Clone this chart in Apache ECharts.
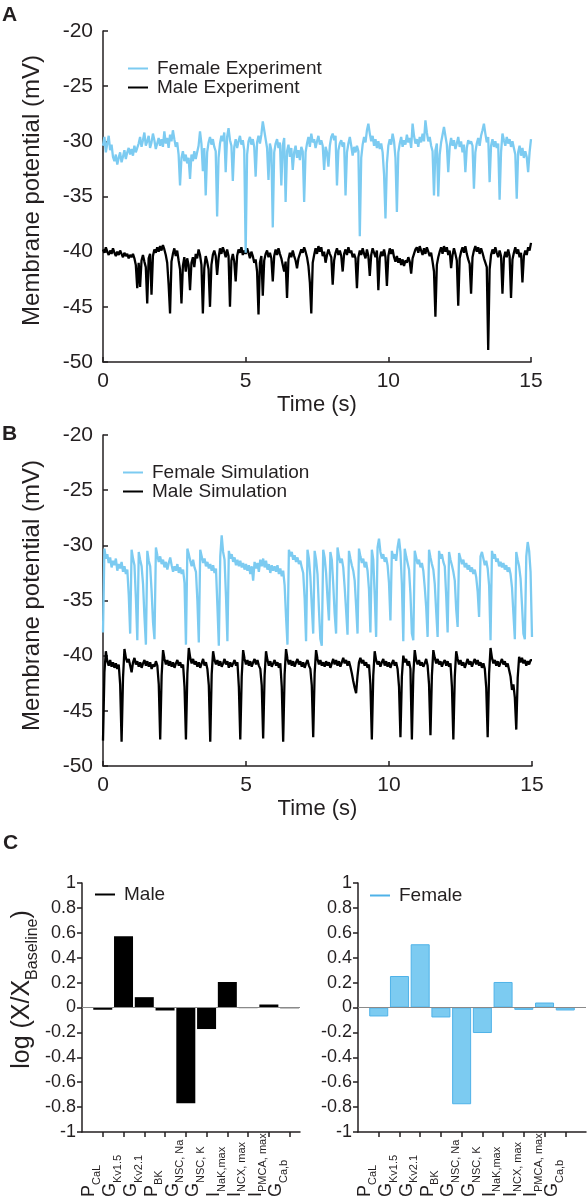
<!DOCTYPE html>
<html><head><meta charset="utf-8">
<script src="https://cdn.jsdelivr.net/npm/echarts@6/dist/echarts.min.js"></script>
<style>html,body{margin:0;padding:0;background:#fff}#c{width:588px;height:1200px}</style>
</head><body><div id="c"></div>
<script>
// ---------- DATA ----------
const dt = 0.05; // sampling step of the traces (s)
const timeTicks = [0, 5, 10, 15];
const voltTicks = [-50, -45, -40, -35, -30, -25, -20];
const logTicks = [-1, -0.8, -0.6, -0.4, -0.2, 0, 0.2, 0.4, 0.6, 0.8, 1];

const femaleExp = [
-30.4,-29.6,-31.0,-30.2,-29.5,-30.8,-30.3,-31.4,-31.8,-31.2,-32.1,-31.5,-31.0,-31.9,-31.4,-30.8,-31.6,-31.0,-30.6,-31.2,
-30.7,-31.3,-30.4,-31.0,-30.6,-30.2,-29.6,-30.5,-29.9,-29.2,-30.4,-30.0,-29.5,-30.6,-30.1,-29.3,-29.9,-30.7,-30.2,-29.7,
-30.4,-29.8,-30.5,-29.1,-30.2,-29.7,-30.6,-29.4,-30.0,-29.0,-29.8,-30.5,-30.1,-31.2,-34.0,-31.5,-30.9,-31.8,-31.2,-32.0,
-31.5,-33.4,-31.2,-31.8,-30.9,-31.6,-31.0,-30.4,-29.1,-30.2,-32.7,-30.6,-34.9,-31.0,-30.1,-29.6,-30.3,-29.8,-30.5,-30.9,
-36.8,-31.5,-30.2,-29.5,-30.0,-29.2,-32.8,-29.6,-28.8,-29.9,-30.4,-33.6,-30.5,-29.8,-30.6,-30.0,-29.5,-30.3,-29.9,-30.8,
-40.1,-31.2,-30.0,-29.6,-30.3,-29.8,-30.5,-33.2,-30.1,-29.5,-30.2,-29.4,-28.2,-29.0,-29.8,-30.6,-33.5,-30.2,-30.8,-37.8,
-31.0,-30.2,-29.8,-30.6,-30.1,-34.0,-30.4,-29.7,-35.5,-30.9,-30.3,-31.4,-30.6,-32.6,-31.0,-30.4,-31.5,-30.8,-31.7,-30.5,
-30.9,-35.5,-31.0,-30.2,-29.6,-30.5,-29.3,-30.1,-29.8,-30.6,-30.0,-29.5,-30.3,-29.9,-30.4,-32.6,-30.5,-31.0,-32.3,-30.4,
-29.6,-29.3,-29.9,-29.5,-34.0,-30.8,-30.2,-29.9,-30.5,-30.1,-34.9,-31.0,-30.2,-29.6,-30.4,-31.3,-30.5,-31.0,-30.4,-30.9,
-38.6,-31.5,-30.3,-29.6,-30.1,-29.0,-28.4,-29.3,-30.0,-29.5,-30.4,-29.8,-30.6,-30.0,-30.7,-30.2,-31.0,-33.0,-37.0,-32.0,
-30.4,-29.8,-30.3,-29.3,-30.0,-31.5,-36.4,-31.0,-30.2,-29.6,-30.5,-29.9,-30.3,-29.4,-30.1,-29.7,-30.6,-28.4,-29.5,-30.2,
-29.8,-30.5,-29.6,-30.1,-29.3,-30.0,-28.1,-29.2,-30.0,-29.6,-30.4,-30.9,-34.9,-30.8,-30.2,-35.0,-31.2,-30.1,-29.4,-28.7,
-29.5,-30.3,-32.8,-30.5,-29.7,-30.4,-29.9,-30.7,-30.2,-29.6,-30.5,-30.0,-31.0,-30.3,-32.8,-30.6,-29.9,-30.2,-30.0,-30.4,
-34.3,-31.0,-30.2,-29.7,-30.4,-29.5,-29.0,-28.4,-29.3,-30.1,-29.6,-33.7,-30.4,-29.8,-30.5,-30.0,-30.6,-30.2,-35.3,-31.0,
-29.3,-29.9,-30.4,-29.6,-30.2,-29.8,-30.5,-30.0,-30.6,-31.2,-35.2,-31.0,-30.4,-31.3,-30.6,-31.5,-30.9,-31.4,-32.8,-31.0,
-29.8];

const maleExp = [
-39.8,-40.1,-39.6,-40.0,-40.3,-39.9,-40.2,-39.7,-40.1,-40.4,-40.0,-40.3,-39.9,-40.2,-40.5,-40.1,-40.4,-40.2,-40.6,-40.3,
-40.5,-40.2,-40.6,-41.2,-43.3,-41.0,-43.2,-40.8,-40.3,-40.9,-41.4,-44.7,-40.6,-40.2,-43.9,-40.4,-39.8,-40.1,-39.6,-40.0,
-39.5,-39.9,-39.4,-39.8,-40.3,-41.0,-43.0,-45.6,-40.9,-40.2,-39.7,-40.4,-39.9,-40.8,-41.6,-44.7,-41.3,-40.5,-41.8,-40.6,
-41.2,-43.5,-41.0,-40.5,-41.4,-40.2,-40.6,-39.8,-40.3,-41.2,-45.6,-41.5,-40.4,-40.9,-41.6,-45.0,-41.2,-40.3,-39.9,-40.4,
-42.1,-40.6,-39.7,-40.2,-39.6,-40.0,-40.5,-39.8,-40.4,-45.0,-40.8,-40.2,-40.9,-42.7,-40.4,-39.8,-40.1,-39.6,-40.3,-39.9,
-40.2,-39.7,-40.1,-40.6,-40.0,-40.4,-41.0,-40.7,-41.8,-45.7,-41.0,-40.4,-44.0,-40.8,-40.2,-39.9,-40.5,-40.1,-40.6,-42.7,
-40.4,-39.8,-40.3,-39.7,-40.2,-40.6,-41.2,-41.8,-40.9,-44.2,-40.7,-40.1,-40.5,-39.9,-40.4,-40.8,-41.5,-40.6,-40.2,-39.8,
-40.1,-39.6,-40.0,-40.5,-41.3,-42.8,-45.6,-41.0,-40.3,-39.7,-40.2,-39.5,-40.0,-39.6,-40.4,-40.0,-41.0,-40.3,-39.8,-40.2,
-40.5,-43.0,-40.8,-40.1,-39.7,-40.3,-39.9,-40.4,-41.8,-40.2,-39.8,-40.3,-39.6,-40.1,-39.9,-40.5,-40.2,-40.6,-43.3,-40.5,
-39.9,-40.3,-39.7,-40.2,-40.6,-39.8,-40.4,-42.2,-40.3,-39.7,-40.1,-40.5,-39.9,-43.5,-40.6,-40.0,-40.4,-39.8,-40.5,-43.1,
-40.4,-39.7,-40.2,-39.8,-40.5,-40.9,-40.4,-41.0,-40.6,-41.2,-40.7,-41.3,-40.8,-41.0,-40.5,-40.9,-42.0,-40.6,-40.2,-39.8,
-39.6,-40.1,-39.5,-39.9,-40.3,-39.7,-40.2,-39.6,-40.0,-40.4,-40.1,-40.9,-41.8,-45.9,-41.2,-40.5,-40.0,-39.6,-40.2,-39.5,
-40.0,-39.6,-40.3,-39.9,-41.5,-40.3,-39.7,-40.2,-40.8,-44.9,-40.6,-40.0,-39.6,-40.1,-39.5,-40.2,-40.7,-41.1,-43.8,-40.5,
-39.9,-39.5,-40.0,-39.6,-40.2,-39.7,-40.1,-40.6,-41.0,-41.4,-48.9,-41.6,-40.3,-39.8,-40.2,-39.6,-40.1,-40.5,-39.9,-40.4,
-43.8,-40.6,-40.0,-40.5,-39.8,-40.4,-44.2,-40.7,-40.1,-39.6,-40.2,-39.8,-40.5,-40.1,-42.8,-40.4,-39.9,-40.3,-39.6,-39.9,
-39.2];

const femaleSim = [
-37.9,-30.3,-31.2,-30.8,-31.6,-31.1,-32.0,-31.4,-31.8,-31.2,-32.3,-31.7,-32.1,-31.5,-32.4,-31.9,-32.6,-32.2,-34.5,-38.0,
-30.4,-31.2,-31.8,-34.8,-38.6,-30.6,-31.3,-31.9,-33.5,-36.5,-39.0,-30.5,-31.4,-31.9,-34.2,-37.0,-38.5,-30.2,-30.9,-31.5,
-31.0,-31.7,-31.3,-32.0,-31.5,-32.2,-31.6,-31.1,-31.8,-32.4,-31.9,-32.3,-31.7,-32.5,-32.0,-32.6,-32.2,-33.4,-39.0,-30.3,
-30.8,-31.4,-31.9,-31.3,-32.0,-32.4,-35.0,-38.8,-30.4,-31.0,-31.6,-31.2,-31.9,-31.5,-32.1,-31.7,-32.3,-31.8,-32.5,-32.1,
-35.5,-39.1,-31.0,-29.1,-30.6,-31.3,-34.6,-38.7,-30.5,-31.2,-30.8,-31.5,-31.1,-31.8,-31.3,-31.9,-31.4,-32.0,-31.6,-32.2,
-31.7,-32.3,-31.8,-32.6,-31.9,-33.2,-31.5,-32.1,-31.6,-32.4,-31.3,-31.9,-31.2,-32.0,-31.4,-32.2,-31.7,-32.5,-31.8,-32.3,
-31.9,-32.4,-31.8,-32.6,-32.1,-32.8,-32.3,-33.6,-36.5,-39.0,-30.4,-31.0,-30.6,-31.3,-30.9,-31.5,-31.1,-31.7,-31.4,-32.0,
-32.5,-34.8,-38.7,-30.4,-31.2,-32.8,-35.5,-38.0,-30.5,-31.3,-32.6,-35.8,-38.5,-39.1,-30.4,-31.1,-32.5,-34.8,-36.8,-30.6,
-31.3,-33.5,-36.2,-38.0,-30.2,-31.0,-31.6,-31.2,-32.0,-33.8,-35.9,-38.1,-30.5,-31.2,-31.8,-32.3,-33.2,-35.5,-38.0,-30.3,
-31.0,-31.6,-31.2,-32.0,-31.5,-32.3,-34.0,-37.9,-30.4,-31.3,-34.5,-38.3,-30.2,-29.4,-30.6,-31.2,-30.8,-31.5,-31.1,-31.8,
-33.4,-36.8,-30.5,-31.2,-30.8,-31.4,-30.2,-29.4,-30.6,-33.5,-38.7,-30.3,-31.0,-31.6,-32.2,-34.4,-38.0,-38.6,-30.5,-31.1,
-31.7,-31.3,-32.0,-31.6,-32.3,-33.8,-35.6,-38.3,-30.4,-31.1,-31.7,-32.2,-33.5,-36.0,-38.3,-30.5,-31.2,-30.8,-31.5,-31.9,
-34.6,-37.9,-30.6,-31.3,-31.8,-32.4,-33.2,-35.8,-37.4,-30.7,-31.2,-31.7,-31.3,-32.0,-31.6,-32.2,-31.8,-32.4,-32.0,-32.6,
-32.2,-32.9,-34.2,-36.5,-31.0,-30.6,-31.2,-31.8,-31.4,-32.1,-33.6,-38.6,-30.5,-31.2,-30.8,-31.5,-31.2,-31.9,-31.5,-32.0,
-31.6,-32.2,-31.8,-32.4,-32.0,-32.6,-33.8,-36.2,-38.5,-30.6,-31.3,-31.9,-33.0,-35.4,-38.0,-38.5,-31.0,-29.7,-30.5,-32.4,
-38.3];

const maleSim = [
-47.7,-41.5,-39.6,-40.5,-40.9,-40.4,-41.0,-40.6,-41.1,-40.7,-41.2,-40.8,-42.6,-47.8,-42.0,-39.4,-40.2,-40.6,-40.3,-40.9,
-41.5,-40.6,-40.2,-40.8,-40.5,-41.0,-40.6,-41.1,-40.7,-40.4,-40.9,-40.5,-41.0,-40.6,-41.2,-40.8,-41.0,-40.5,-40.9,-42.6,
-47.6,-41.8,-39.5,-40.3,-40.8,-40.4,-40.9,-40.5,-41.0,-40.6,-41.1,-40.7,-40.4,-40.9,-40.6,-41.1,-40.8,-42.8,-47.6,-41.6,
-39.3,-40.2,-40.7,-40.3,-40.8,-40.5,-41.0,-40.6,-41.1,-40.7,-40.3,-40.9,-40.6,-41.2,-42.7,-47.8,-41.7,-39.6,-40.4,-40.8,
-40.4,-40.9,-40.5,-41.0,-40.7,-40.3,-40.8,-40.5,-41.1,-40.6,-41.0,-40.7,-40.4,-40.9,-40.6,-42.8,-47.6,-41.9,-39.5,-40.3,
-40.8,-40.4,-40.9,-40.5,-41.0,-40.6,-40.3,-40.8,-40.4,-40.9,-41.2,-42.7,-47.5,-41.8,-39.6,-40.4,-40.9,-40.5,-41.0,-40.7,
-40.4,-40.9,-40.6,-41.1,-40.7,-42.8,-47.8,-41.7,-39.4,-40.3,-40.8,-40.4,-40.9,-40.5,-41.0,-40.6,-40.3,-40.8,-40.5,-41.0,
-40.6,-41.1,-40.7,-40.4,-40.9,-41.2,-42.7,-47.4,-41.6,-39.5,-40.3,-40.8,-40.4,-40.9,-40.6,-41.0,-40.5,-40.9,-40.6,-41.1,
-40.7,-40.3,-40.8,-40.4,-40.9,-40.5,-41.0,-40.6,-40.2,-40.7,-40.4,-40.9,-40.5,-41.0,-41.6,-42.3,-42.9,-43.4,-41.8,-40.6,
-40.2,-40.7,-40.4,-40.9,-40.6,-41.1,-40.8,-42.6,-47.6,-41.8,-39.6,-40.4,-40.8,-40.5,-41.0,-40.6,-40.3,-40.9,-40.5,-41.0,
-40.6,-41.1,-40.7,-40.4,-40.9,-40.6,-41.2,-42.8,-47.4,-41.9,-40.0,-40.6,-40.3,-40.9,-40.5,-41.2,-47.6,-41.7,-39.5,-40.4,
-40.8,-40.4,-40.9,-40.6,-41.0,-40.7,-40.3,-40.9,-42.6,-47.2,-41.8,-39.5,-40.2,-40.7,-40.3,-40.8,-40.5,-41.0,-40.6,-40.4,
-40.9,-40.5,-41.0,-40.7,-42.8,-47.6,-41.9,-39.6,-40.3,-40.8,-40.4,-40.9,-40.6,-41.1,-40.7,-40.3,-40.8,-40.5,-41.0,-40.6,
-40.3,-40.8,-40.4,-40.9,-40.6,-41.1,-40.7,-41.2,-42.9,-47.4,-41.6,-39.3,-40.2,-40.7,-40.4,-40.9,-40.5,-41.0,-40.6,-40.3,
-40.8,-40.5,-41.0,-40.7,-41.3,-41.9,-43.1,-42.6,-43.8,-46.7,-42.0,-40.1,-40.6,-40.2,-40.7,-40.4,-40.9,-40.5,-40.8,-40.4,
-40.4];

// Panel C: parameter names (main letter + subscript) and log(X/X_Baseline) values
const paramMain = ['P', 'G', 'G', 'P', 'G', 'G', 'I', 'I', 'I', 'G'];
const paramSub = ['CaL', 'Kv1.5', 'Kv2.1', 'BK', 'NSC, Na', 'NSC, K', 'NaK,max', 'NCX, max', 'PMCA, max', 'Ca,b'];
const maleLog = [-0.018, 0.573, 0.083, -0.024, -0.770, -0.173, 0.205, -0.005, 0.024, -0.006];
const femaleLog = [-0.072, 0.253, 0.508, -0.080, -0.777, -0.205, 0.205, -0.019, 0.040, -0.024];

// ---------- CHART ----------
const FONT = '"Liberation Sans", Arial, Helvetica, sans-serif';
const TXT = '#231f20';
const BLUE = '#7ccbf1';
const BLUE_DARK = '#4fb2e8';
const toXY = arr => arr.map((v, i) => [Math.round(i * dt * 100) / 100, v]);
const paramPos = paramMain.map((_, i) => i);

function traceX(gi) {
  return {
    type: 'value', gridIndex: gi,
    min: timeTicks[0], max: timeTicks[timeTicks.length - 1], interval: timeTicks[1] - timeTicks[0],
    axisLine: { show: true, onZero: false, lineStyle: { color: TXT, width: 1.5 } },
    axisTick: { show: true, inside: true, length: 5, lineStyle: { color: TXT, width: 1.5 } },
    axisLabel: { fontSize: 21, color: TXT, margin: 9, fontFamily: FONT },
    splitLine: { show: false },
    name: 'Time (s)', nameLocation: 'middle', nameGap: 32,
    nameTextStyle: { fontSize: 22, color: TXT, fontFamily: FONT }
  };
}
function traceY(gi, pad) {
  return {
    type: 'value', gridIndex: gi,
    min: voltTicks[0], max: voltTicks[voltTicks.length - 1], interval: voltTicks[1] - voltTicks[0],
    axisLine: { show: true, onZero: false, lineStyle: { color: TXT, width: 1.5 } },
    axisTick: { show: true, inside: true, length: 5, lineStyle: { color: TXT, width: 1.5 } },
    axisLabel: { fontSize: 21, color: TXT, margin: 10, fontFamily: FONT },
    splitLine: { show: false },
    name: 'Membrane potential (mV)', nameLocation: 'middle', nameRotate: 90, nameGap: 59,
    nameTextStyle: { fontSize: 24, color: TXT, fontFamily: FONT, padding: [0, 0, 0, pad] }
  };
}
// bar axis: line + ticks only
function barX(gi, max) {
  return {
    type: 'value', gridIndex: gi, min: -1, max: max, position: 'bottom', offset: 0,
    axisLine: { show: true, onZero: false, lineStyle: { color: TXT, width: 1.5 } },
    axisTick: { show: true, inside: false, length: 5, customValues: paramPos, lineStyle: { color: TXT, width: 1.5 } },
    axisLabel: { show: false },
    splitLine: { show: false }
  };
}
// label-only axes (every other parameter on each, so the library does not drop neighbours)
function labelX(gi, max, parity) {
  const pos = paramPos.filter(p => p % 2 === parity);
  return {
    type: 'value', gridIndex: gi, min: -1, max: max, position: 'bottom', offset: 0,
    axisLine: { show: false, onZero: false }, axisTick: { show: false }, splitLine: { show: false },
    axisLabel: {
      customValues: pos.map(p => p - 0.35),
      showMinLabel: true, showMaxLabel: true, hideOverlap: false,
      rotate: 90, align: 'left', verticalAlign: 'middle', margin: 65,
      formatter: v => { const i = Math.round(v + 0.35); return '{m|' + paramMain[i] + '}{s|' + paramSub[i] + '}'; },
      rich: {
        m: { fontSize: 18, lineHeight: 14, color: TXT, fontFamily: FONT, verticalAlign: 'bottom', padding: [0, 0, 4, 0] },
        s: { fontSize: 11, lineHeight: 11, color: TXT, fontFamily: FONT, verticalAlign: 'bottom' }
      }
    }
  };
}
function barY(gi, withName) {
  const ax = {
    type: 'value', gridIndex: gi,
    min: logTicks[0], max: logTicks[logTicks.length - 1], interval: 0.2,
    axisLine: { show: true, onZero: false, lineStyle: { color: TXT, width: 1.5 } },
    axisTick: { show: true, inside: false, length: 5, lineStyle: { color: TXT, width: 1.5 } },
    axisLabel: { fontSize: 18, color: TXT, margin: 6, fontFamily: FONT },
    splitLine: { show: false }
  };
  if (withName) {
    ax.name = '{m|log (X/X}{s|Baseline}{m|)}';
    ax.nameLocation = 'middle'; ax.nameRotate = 90; ax.nameGap = 40;
    ax.nameTextStyle = {
      padding: [0, 0, 0, 36],
      rich: {
        m: { fontSize: 25, color: TXT, fontFamily: FONT, verticalAlign: 'bottom', padding: [0, 0, 6, 0] },
        s: { fontSize: 16, color: TXT, fontFamily: FONT, verticalAlign: 'bottom' }
      }
    };
  }
  return ax;
}
const zeroLine = {
  silent: true, symbol: 'none', label: { show: false },
  lineStyle: { color: '#8a8a8a', width: 1, type: 'solid' },
  data: [{ yAxis: 0 }]
};
const legendBase = {
  orient: 'vertical', itemGap: 0, itemWidth: 20, itemHeight: 2, icon: 'rect', padding: 0,
  textStyle: { fontSize: 19, color: TXT, fontFamily: FONT, lineHeight: 19, padding: [0, 0, 0, 4] }
};
const traceLine = { width: 2.3 };

const chart = echarts.init(document.getElementById('c'), null, { renderer: 'canvas', width: 588, height: 1200 });
chart.setOption({
  animation: false,
  backgroundColor: '#fff',
  textStyle: { fontFamily: FONT },
  title: [
    { text: 'A', left: 2, top: 5, padding: 0, textStyle: { fontSize: 21, fontWeight: 'bold', color: TXT, fontFamily: FONT } },
    { text: 'B', left: 2, top: 424, padding: 0, textStyle: { fontSize: 21, fontWeight: 'bold', color: TXT, fontFamily: FONT } },
    { text: 'C', left: 3, top: 833, padding: 0, textStyle: { fontSize: 21, fontWeight: 'bold', color: TXT, fontFamily: FONT } }
  ],
  legend: [
    Object.assign({}, legendBase, { left: 128, top: 59, data: ['Female Experiment', 'Male Experiment'] }),
    Object.assign({}, legendBase, { left: 123, top: 463, data: ['Female Simulation', 'Male Simulation'] }),
    Object.assign({}, legendBase, { left: 95, top: 885, data: [{ name: 'Male', itemStyle: { color: '#000', borderWidth: 0 } }] }),
    Object.assign({}, legendBase, { left: 370, top: 886, data: [{ name: 'Female', itemStyle: { color: BLUE_DARK, borderWidth: 0 } }] })
  ],
  grid: [
    { left: 103, top: 31, width: 428, height: 331 },
    { left: 103, top: 435, width: 429, height: 331 },
    { left: 82, top: 883, width: 218, height: 250 },
    { left: 358, top: 883, width: 228, height: 250 }
  ],
  xAxis: [traceX(0), traceX(1), barX(2, 9.5), barX(3, 10),
          labelX(2, 9.5, 0), labelX(2, 9.5, 1), labelX(3, 10, 0), labelX(3, 10, 1)],
  yAxis: [traceY(0, 12), traceY(1, 10), barY(2, true), barY(3, false)],
  series: [
    { type: 'line', name: 'Male Experiment', xAxisIndex: 0, yAxisIndex: 0, data: toXY(maleExp),
      showSymbol: false, symbol: 'none', color: '#000', lineStyle: Object.assign({ color: '#000' }, traceLine) },
    { type: 'line', name: 'Female Experiment', xAxisIndex: 0, yAxisIndex: 0, data: toXY(femaleExp),
      showSymbol: false, symbol: 'none', color: BLUE, lineStyle: Object.assign({ color: BLUE }, traceLine) },
    { type: 'line', name: 'Male Simulation', xAxisIndex: 1, yAxisIndex: 1, data: toXY(maleSim),
      showSymbol: false, symbol: 'none', color: '#000', lineStyle: Object.assign({ color: '#000' }, traceLine) },
    { type: 'line', name: 'Female Simulation', xAxisIndex: 1, yAxisIndex: 1, data: toXY(femaleSim),
      showSymbol: false, symbol: 'none', color: BLUE, lineStyle: Object.assign({ color: BLUE }, traceLine) },
    { type: 'bar', name: 'Male', xAxisIndex: 2, yAxisIndex: 2, data: maleLog.map((v, i) => [paramPos[i], v]),
      barWidth: 19, itemStyle: { color: '#000' }, markLine: zeroLine },
    { type: 'bar', name: 'Female', xAxisIndex: 3, yAxisIndex: 3, data: femaleLog.map((v, i) => [paramPos[i], v]),
      barWidth: 19, itemStyle: { color: BLUE, borderColor: BLUE_DARK, borderWidth: 1 }, markLine: zeroLine }
  ]
});
</script></body></html>
